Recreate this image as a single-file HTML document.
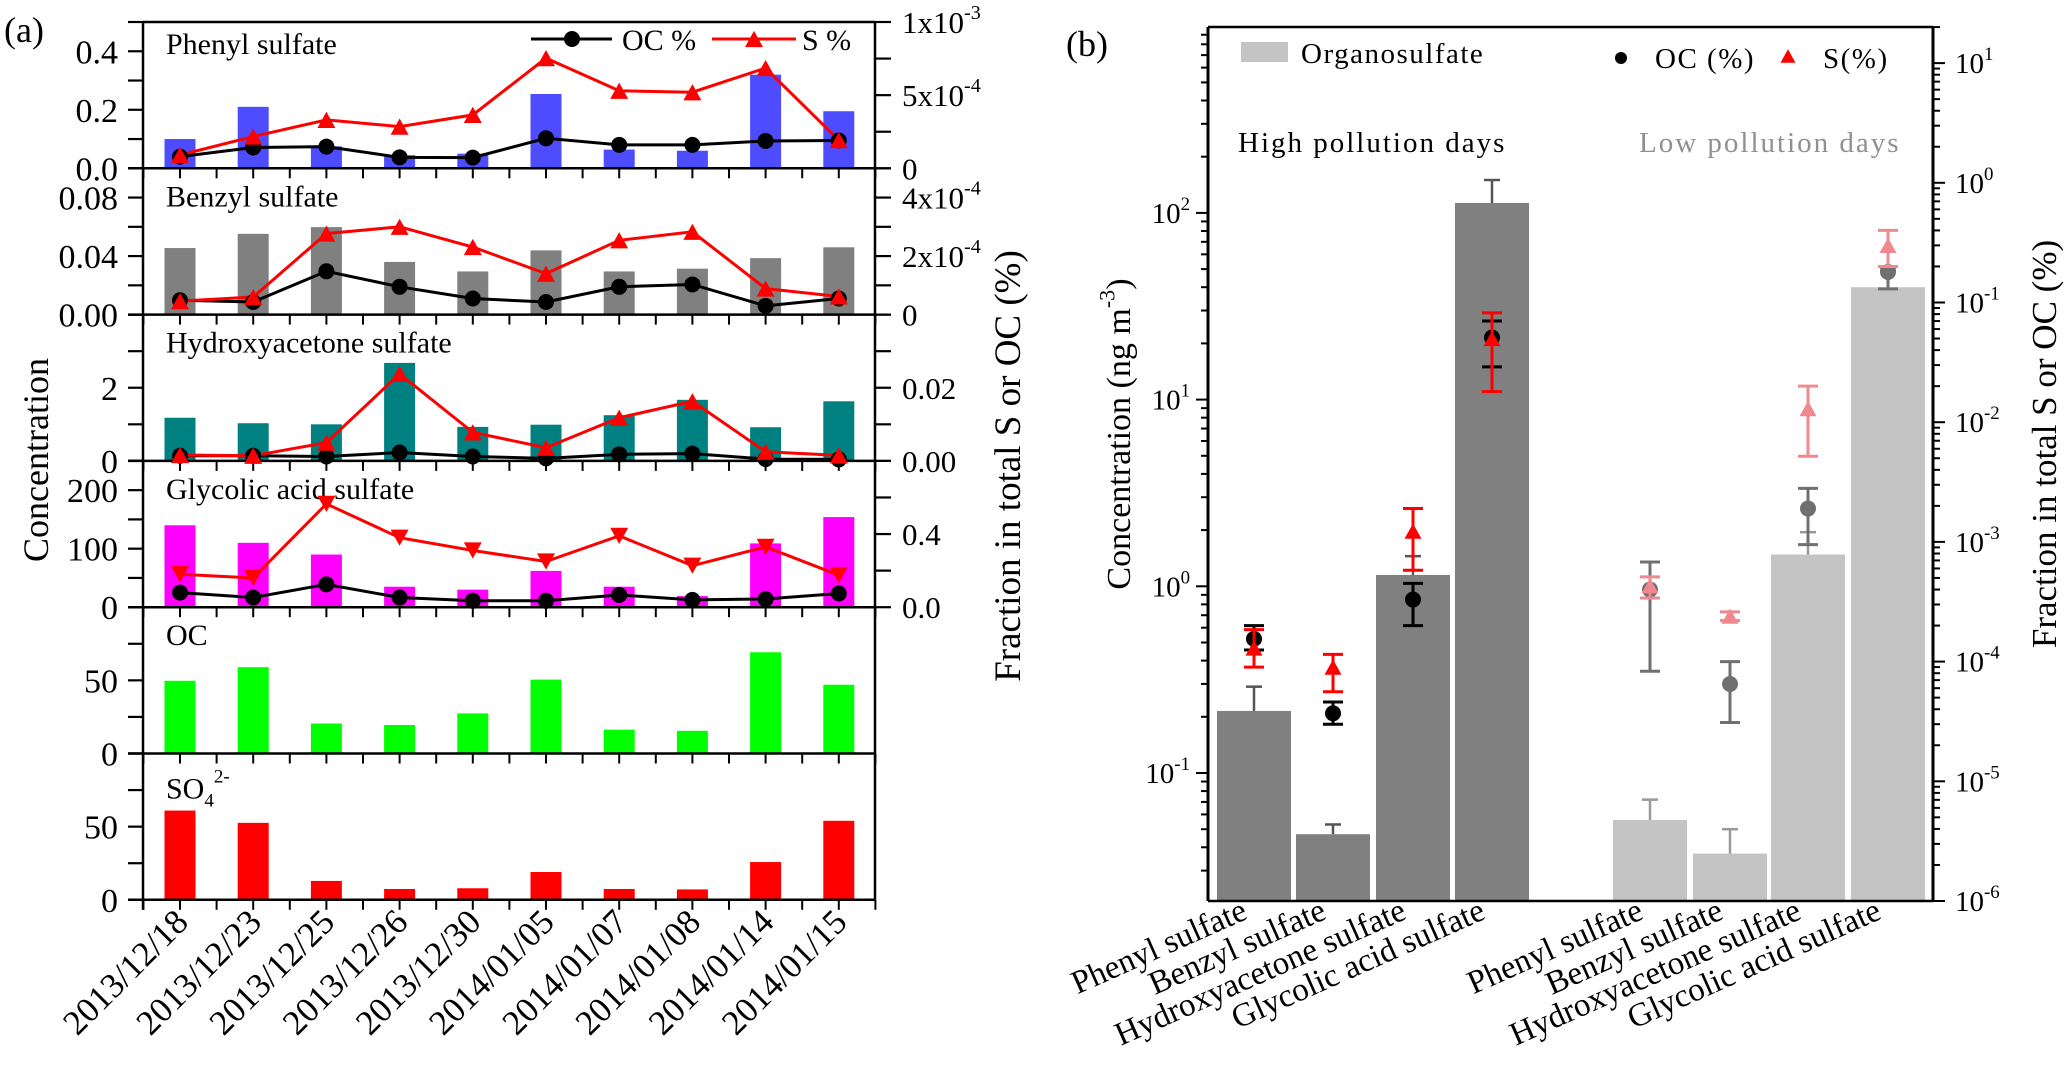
<!DOCTYPE html>
<html><head><meta charset="utf-8"><style>
html,body{margin:0;padding:0;background:#fff}
svg{display:block;font-family:"Liberation Serif","DejaVu Serif",serif}
svg text{font-family:"Liberation Serif","DejaVu Serif",serif}
</style></head><body>
<svg id="fig" width="2067" height="1067" viewBox="0 0 2067 1067" xmlns="http://www.w3.org/2000/svg"></svg>
<script>
// ---------- Panel (a) data ----------
const dates=["2013/12/18","2013/12/23","2013/12/25","2013/12/26","2013/12/30","2014/01/05","2014/01/07","2014/01/08","2014/01/14","2014/01/15"];
const phenylConc=[0.10,0.21,0.075,0.045,0.05,0.254,0.064,0.06,0.32,0.195];
const phenylOC=[0.8e-4,1.42e-4,1.48e-4,0.75e-4,0.73e-4,2.05e-4,1.6e-4,1.6e-4,1.87e-4,1.9e-4];
const phenylS=[0.91e-4,2.17e-4,3.31e-4,2.85e-4,3.65e-4,7.53e-4,5.3e-4,5.2e-4,6.85e-4,1.92e-4];
const benzylConc=[0.0455,0.0552,0.0598,0.036,0.0295,0.0439,0.0295,0.0314,0.0386,0.046];
const benzylOC=[0.49e-4,0.43e-4,1.48e-4,0.95e-4,0.55e-4,0.43e-4,0.95e-4,1.03e-4,0.30e-4,0.55e-4];
const benzylS=[0.46e-4,0.6e-4,2.77e-4,3.0e-4,2.31e-4,1.4e-4,2.54e-4,2.83e-4,0.89e-4,0.62e-4];
const hydroxyConc=[1.18,1.03,1.0,2.68,0.93,0.99,1.25,1.67,0.92,1.63];
const hydroxyOC=[0.0014,0.0014,0.0012,0.0023,0.0012,0.0007,0.0018,0.002,0.0005,0.0004];
const hydroxyS=[0.0016,0.0014,0.005,0.0238,0.0078,0.0036,0.0118,0.0163,0.0025,0.0015];
const glycolicConc=[140,110,90,35,30,62,35,19,109,154];
const glycolicOC=[0.08,0.053,0.125,0.053,0.035,0.035,0.067,0.04,0.045,0.075];
const glycolicS=[0.18,0.16,0.565,0.38,0.31,0.25,0.39,0.227,0.33,0.175];
const ocConc=[49.7,59,20.5,19.5,27.4,50.5,16.3,15.5,69.2,47];
const so4Conc=[61,52.6,12.9,7.4,7.9,19,7.4,7.1,25.8,54];
// ---------- Panel (b) data ----------
const bCats=["Phenyl sulfate","Benzyl sulfate","Hydroxyacetone sulfate","Glycolic acid sulfate"];
const highConc=[0.215,0.047,1.15,113];
const highConcErr=[0.29,0.053,1.45,150];
const lowConc=[0.056,0.037,1.48,40];
const lowConcErr=[0.072,0.050,1.95,50];
const highOC=[1.55e-4,3.7e-5,3.3e-4,0.051];
const highOCLo=[1.25e-4,3.0e-5,2.0e-4,0.029];
const highOCHi=[2.0e-4,4.6e-5,4.5e-4,0.07];
const highS=[1.3e-4,9e-5,1.23e-3,0.05];
const highSLo=[0.9e-4,5.6e-5,5.8e-4,0.018];
const highSHi=[1.85e-4,1.15e-4,1.9e-3,0.082];
const lowOC=[4.0e-4,6.5e-5,1.9e-3,0.18];
const lowOCLo=[8.3e-5,3.1e-5,9.5e-4,0.13];
const lowOCHi=[6.8e-4,1.0e-4,2.8e-3,0.2];
const lowS=[4.3e-4,2.4e-4,1.3e-2,0.3];
const lowSLo=[3.4e-4,2.2e-4,5.2e-3,0.2];
const lowSHi=[5.1e-4,2.6e-4,2.0e-2,0.4];

const svg=document.getElementById('fig');
const NS='http://www.w3.org/2000/svg';
function mk(tag,attrs,name,parent){
  const el=document.createElementNS(NS,tag);
  for(const k in attrs) el.setAttribute(k,attrs[k]);
  
  
  (parent||svg).appendChild(el);
  return el;
}
function txt(x,y,s,size,anchor,name,fill,extra){
  const t=mk('text',Object.assign({x:x,y:y,'font-size':size,'text-anchor':anchor||'start',fill:fill||'#000','font-family':'Liberation Serif, DejaVu Serif, serif'},extra||{}),name);
  t.textContent=s;
  return t;
}
function sup(t,base,exp,size){
  t.textContent='';
  const a=document.createElementNS(NS,'tspan');a.textContent=base;t.appendChild(a);
  const b=document.createElementNS(NS,'tspan');b.textContent=exp;b.setAttribute('dy',-size*0.45);b.setAttribute('font-size',size*0.65);t.appendChild(b);
}
function line(x1,y1,x2,y2,name,stroke,w){return mk('line',{x1:x1,y1:y1,x2:x2,y2:y2,stroke:stroke||'#000','stroke-width':w||2.5},name);}
function tri(cx,cy,s,fill,down,name){
  const h=s*0.9;
  const p=down?`${cx-s/2},${cy-h/2} ${cx+s/2},${cy-h/2} ${cx},${cy+h/2}`:`${cx-s/2},${cy+h/2} ${cx+s/2},${cy+h/2} ${cx},${cy-h/2}`;
  return mk('polygon',{points:p,fill:fill},name);
}

// ---------- Panel (a) ----------
const AX0=143, AX1=875, ATOP=22, PH=146.3;
function xA(i){return 180+i*73.2;}
txt(4,42,'(a)',36,'start','panel-a-label');
const panels=[
 {name:'phenyl',title:'Phenyl sulfate',conc:phenylConc,oc:phenylOC,s:phenylS,color:'#4d4dff',lmax:0.5,lstep:0.1,llab:[[0,'0.0'],[0.2,'0.2'],[0.4,'0.4']],rmax:1e-3,rstep:2.5e-4,rlab:[[0,'0'],[5e-4,'5x10','-4'],[1e-3,'1x10','-3']],down:false},
 {name:'benzyl',title:'Benzyl sulfate',conc:benzylConc,oc:benzylOC,s:benzylS,color:'#808080',lmax:0.1,lstep:0.02,llab:[[0,'0.00'],[0.04,'0.04'],[0.08,'0.08']],rmax:5e-4,rstep:1e-4,rlab:[[0,'0'],[2e-4,'2x10','-4'],[4e-4,'4x10','-4']],down:false},
 {name:'hydroxyacetone',title:'Hydroxyacetone sulfate',conc:hydroxyConc,oc:hydroxyOC,s:hydroxyS,color:'#008080',lmax:4,lstep:1,llab:[[0,'0'],[2,'2']],rmax:0.04,rstep:0.01,rlab:[[0,'0.00'],[0.02,'0.02']],down:false},
 {name:'glycolic',title:'Glycolic acid sulfate',conc:glycolicConc,oc:glycolicOC,s:glycolicS,color:'#ff00ff',lmax:250,lstep:50,llab:[[0,'0'],[100,'100'],[200,'200']],rmax:0.8,rstep:0.2,rlab:[[0,'0.0'],[0.4,'0.4']],down:true},
 {name:'oc',title:'OC',conc:ocConc,color:'#00ff00',lmax:100,lstep:25,llab:[[0,'0'],[50,'50']]},
 {name:'so4',title:'SO4',conc:so4Conc,color:'#ff0000',lmax:100,lstep:25,llab:[[0,'0'],[50,'50']]}
];
panels.forEach((p,k)=>{
  const top=ATOP+k*PH, bot=top+PH;
  const yl=v=>bot-v/p.lmax*PH;
  p.conc.forEach((v,i)=>{
    mk('rect',{x:xA(i)-15.5,y:yl(v),width:31,height:bot-yl(v),fill:p.color},p.name+'-bar');
  });
  for(let v=0;v<=p.lmax+1e-9;v+=p.lstep){
    line(AX0-15,yl(v),AX0,yl(v),p.name+'-left-tick','#000',2.2);
  }
  p.llab.forEach(l=>txt(AX0-25,yl(l[0])+12,l[1],34,'end',p.name+'-left-tick-label'));
  for(let i=0;i<10;i++){
    line(xA(i),bot,xA(i),bot+10,p.name+'-x-tick','#000',2);
    line(xA(i)-36.6,bot,xA(i)-36.6,bot+10,p.name+'-x-minor-tick','#000',2);
  }
  line(xA(9)+36.6,bot,xA(9)+36.6,bot+10,p.name+'-x-minor-tick','#000',2);
  line(AX0-15,bot,AX1,bot,p.name+'-x-axis','#000',2.5);
  if(p.name==='so4'){
    const t=txt(166,top+45,'',30,'start','so4-panel-title');
    const a=document.createElementNS(NS,'tspan');a.textContent='SO';t.appendChild(a);
    const b=document.createElementNS(NS,'tspan');b.textContent='4';b.setAttribute('font-size',19);b.setAttribute('dy',8);t.appendChild(b);
    const c=document.createElementNS(NS,'tspan');c.textContent='2-';c.setAttribute('font-size',19);c.setAttribute('dy',-24);t.appendChild(c);
  } else txt(166,top+32+(k==0?0:6),p.title,30,'start',p.name+'-panel-title');
  if(p.oc){
    const yr=v=>bot-v/p.rmax*PH;
    for(let v=0;v<=p.rmax+1e-12;v+=p.rstep){
      line(AX1,yr(v),AX1+16,yr(v),p.name+'-right-tick','#000',2.2);
    }
    p.rlab.forEach(l=>{
      const t=txt(AX1+27,yr(l[0])+11,l[1],31,'start',p.name+'-right-tick-label');
      if(l[2]) sup(t,l[1],l[2],31);
    });
    const ocPts=p.oc.map((v,i)=>xA(i)+','+yr(v)).join(' ');
    mk('polyline',{points:ocPts,fill:'none',stroke:'#000','stroke-width':3},p.name+'-oc-line');
    const sPts=p.s.map((v,i)=>xA(i)+','+yr(v)).join(' ');
    mk('polyline',{points:sPts,fill:'none',stroke:'#ff0000','stroke-width':3},p.name+'-s-line');
    p.oc.forEach((v,i)=>mk('circle',{cx:xA(i),cy:yr(v),r:8,fill:'#000'},p.name+'-oc-point'));
    p.s.forEach((v,i)=>tri(xA(i),yr(v),18,'#ff0000',p.down,p.name+'-s-point'));
  }
});
line(AX0,ATOP,AX0,ATOP+6*PH+10,'panel-a-left-axis','#000',2.5);
line(AX0,ATOP,AX1,ATOP,'panel-a-top-axis','#000',2.5);
line(AX1,ATOP,AX1,ATOP+6*PH,'panel-a-right-axis','#000',2.5);
line(531,39,612,39,'legend-oc-line','#000',3);
mk('circle',{cx:572,cy:39,r:8,fill:'#000'},'legend-oc-marker');
txt(622,50,'OC %',30,'start','legend-oc-label');
line(712,39,796,39,'legend-s-line','#ff0000',3);
tri(754,39,18,'#ff0000',false,'legend-s-marker');
txt(802,50,'S %',30,'start','legend-s-label');
dates.forEach((d,i)=>{
  const x=xA(i)+10,y=924;
  txt(x,y,d,35,'end','x-date-label','#000',{transform:`rotate(-45 ${x} ${y})`});
});
txt(0,0,'Concentration',36,'middle','panel-a-y-title','#000',{transform:'translate(48 460) rotate(-90)'});
txt(0,0,'Fraction in total S or OC (%)',37,'middle','panel-a-right-y-title','#000',{transform:'translate(1020 466) rotate(-90)'});

// ---------- Panel (b) ----------
const BX0=1208, BX1=1933, BTOP=27, BBOT=901;
const yL=v=>773-(Math.log10(v)+1)*186.7;
const yR=v=>901-(Math.log10(v)+6)*119.7;
const highX=[1254,1333,1413,1492], lowX=[1650,1730,1808,1888];
txt(1066,56,'(b)',36,'start','panel-b-label');
function drawBars(xs,vals,errs,color,ec,nm){
  vals.forEach((v,i)=>{
    mk('rect',{x:xs[i]-37,y:yL(v),width:74,height:BBOT-yL(v),fill:color},nm+'-bar');
    line(xs[i],yL(v),xs[i],yL(errs[i]),nm+'-bar-error',ec,2.5);
    line(xs[i]-8,yL(errs[i]),xs[i]+8,yL(errs[i]),nm+'-bar-error-cap',ec,2.5);
  });
}
drawBars(highX,highConc,highConcErr,'#808080','#555',"high-pollution");
drawBars(lowX,lowConc,lowConcErr,'#c4c4c4','#999',"low-pollution");
function drawPts(xs,vals,lo,hi,color,isTri,nm){
  vals.forEach((v,i)=>{
    line(xs[i],yR(lo[i]),xs[i],yR(hi[i]),nm+'-error',color,3);
    line(xs[i]-10,yR(lo[i]),xs[i]+10,yR(lo[i]),nm+'-error-cap',color,3);
    line(xs[i]-10,yR(hi[i]),xs[i]+10,yR(hi[i]),nm+'-error-cap',color,3);
    if(isTri) tri(xs[i],yR(v),17,color,false,nm+'-point');
    else mk('circle',{cx:xs[i],cy:yR(v),r:8,fill:color},nm+'-point');
  });
}
drawPts(highX,highOC,highOCLo,highOCHi,'#000',false,'high-oc');
drawPts(highX,highS,highSLo,highSHi,'#ff0000',true,'high-s');
drawPts(lowX,lowOC,lowOCLo,lowOCHi,'#707070',false,'low-oc');
drawPts(lowX,lowS,lowSLo,lowSHi,'#f08890',true,'low-s');
line(BX0,BTOP,BX1,BTOP,'panel-b-top-axis','#000',2.5);
line(BX0,BTOP,BX0,BBOT,'panel-b-left-axis','#000',3);
line(BX0,BBOT,BX1,BBOT,'panel-b-x-axis','#000',2.5);
line(BX1,BTOP,BX1,BBOT,'panel-b-right-axis','#000',3);
for(let e=-2;e<=3;e++){
  for(let m=1;m<10;m++){
    const v=m*Math.pow(10,e); const y=yL(v);
    if(y<BTOP-0.5||y>BBOT) continue;
    line(BX0-(m==1?12:7),y,BX0,y,'left-log-tick','#000',2);
    if(m==1){
      const t=txt(BX0-18,y+10,'',29,'end','left-tick-label');
      sup(t,'10',String(e),29);
    }
    if(e==3) break;
  }
}
for(let e=-6;e<=1;e++){
  for(let m=1;m<10;m++){
    const v=m*Math.pow(10,e); const y=yR(v);
    if(y<BTOP||y>BBOT+0.5) continue;
    line(BX1,y,BX1+(m==1?12:7),y,'right-log-tick','#000',2);
    if(m==1){
      const t=txt(BX1+22,y+10,'',29,'start','right-tick-label');
      sup(t,'10',String(e),29);
    }
  }
}
mk('rect',{x:1241,y:42,width:47,height:20,fill:'#c4c4c4'},'legend-organosulfate-swatch');
txt(1301,63,'Organosulfate',29,'start','legend-organosulfate-label','#000',{'letter-spacing':1.5});
mk('circle',{cx:1621,cy:58,r:6,fill:'#000'},'legend-oc-pct-marker');
txt(1655,68,'OC (%)',29,'start','legend-oc-pct-label','#000',{'letter-spacing':1.5});
tri(1788,56,15,'#ff0000',false,'legend-s-pct-marker');
txt(1823,68,'S(%)',29,'start','legend-s-pct-label','#000',{'letter-spacing':1.5});
txt(1238,152,'High pollution days',29,'start','high-pollution-label','#000',{'letter-spacing':2});
txt(1639,152,'Low pollution days',29,'start','low-pollution-label','#909090',{'letter-spacing':2});
[highX,lowX].forEach(xs=>{
  bCats.forEach((c,i)=>{
    const x=xs[i]-5,y=918;
    txt(x,y,c,33,'end','category-label','#000',{transform:`rotate(-24 ${x} ${y})`});
  });
});
const yt=txt(0,0,'',34,'middle','panel-b-y-title','#000',{transform:'translate(1130 434) rotate(-90)'});
sup(yt,'Concentration (ng m','-3',34);
const tEnd=document.createElementNS(NS,'tspan');tEnd.textContent=')';tEnd.setAttribute('dy',15);yt.appendChild(tEnd);
txt(0,0,'Fraction in total S or OC (%)',35,'middle','panel-b-right-y-title','#000',{transform:'translate(2056 444) rotate(-90)'});
</script>
</body></html>
